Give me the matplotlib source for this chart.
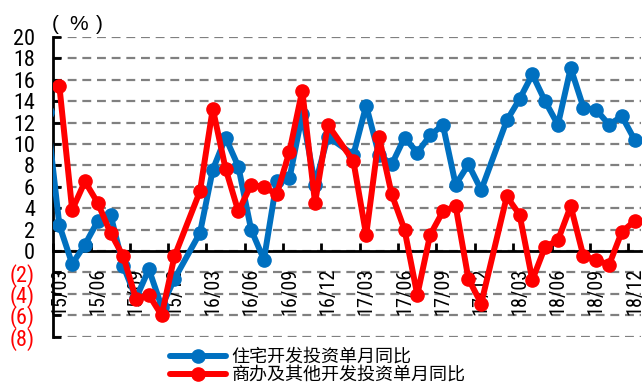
import matplotlib
matplotlib.use('Agg')
import matplotlib.pyplot as plt
from matplotlib import font_manager
from matplotlib.lines import Line2D
import numpy as np

# monthly data, 15/02 .. 18/12 (January folded into February)
months = ['15/02', '15/03', '15/04', '15/05', '15/06', '15/07', '15/08', '15/09', '15/10', '15/11', '15/12',
          '16/01', '16/02', '16/03', '16/04', '16/05', '16/06', '16/07', '16/08', '16/09', '16/10', '16/11', '16/12',
          '17/01', '17/02', '17/03', '17/04', '17/05', '17/06', '17/07', '17/08', '17/09', '17/10', '17/11', '17/12',
          '18/01', '18/02', '18/03', '18/04', '18/05', '18/06', '18/07', '18/08', '18/09', '18/10', '18/11', '18/12']

residential = [13.0, 2.4, -1.2, 0.6, 2.8, 3.4, -1.4, -4.4, -1.7, -5.2, -2.6,
               None, 1.7, 7.6, 10.6, 7.9, 2.0, -0.8, 6.5, 6.8, 12.8, 6.2, 10.7,
               None, 9.0, 13.6, 9.0, 8.1, 10.6, 9.2, 10.8, 11.8, 6.2, 8.1, 5.7,
               None, 12.2, 14.2, 16.5, 14.0, 11.8, 17.1, 13.4, 13.2, 11.8, 12.6, 10.4]

commercial = [None, 15.4, 3.85, 6.5, 4.5, 1.7, -0.5, -4.5, -4.1, -6.0, -0.5,
              None, 5.6, 13.3, 7.7, 3.7, 6.2, 6.0, 5.3, 9.3, 15.0, 4.5, 11.8,
              None, 8.4, 1.5, 10.7, 5.3, 2.0, -4.1, 1.5, 3.7, 4.2, -2.6, -4.9,
              None, 5.1, 3.4, -2.7, 0.4, 1.0, 4.2, -0.5, -0.8, -1.3, 1.8, 2.8]

series_names = ['住宅开发投资单月同比', '商办及其他开发投资单月同比']
yticks = list(range(-8, 21, 2))

BLUE = '#0070C0'
RED = '#FF0000'
CJK = ['Noto Sans CJK SC', 'DejaVu Sans']


def narrow_font():
    # prefer a condensed sans for the axis numbers, fall back to Liberation Sans
    fonts = font_manager.fontManager.ttflist
    for name in ['Liberation Sans Narrow', 'Arial Narrow', 'Roboto Condensed', 'Open Sans Condensed']:
        for f in fonts:
            if f.name == name and f.weight in (400, 'normal', 'regular') and f.style == 'normal':
                return font_manager.FontProperties(fname=f.fname), 1.0
    for f in fonts:
        if f.name == 'DejaVu Sans' and f.stretch == 'condensed' and f.style == 'normal' \
                and f.weight in (400, 'normal'):
            return font_manager.FontProperties(fname=f.fname), 0.95
    return font_manager.FontProperties(family='Liberation Sans'), 0.85


def valid_points(values):
    # skip missing months so the line joins across the gap
    xs = [i for i, v in enumerate(values) if v is not None]
    ys = [v for v in values if v is not None]
    return xs, ys


num_font, scale = narrow_font()

fig = plt.figure(figsize=(6.44, 3.9), dpi=100)
ax = fig.add_axes([53 / 644, 1 - 336.7 / 390, 588 / 644, 299.7 / 390])

for yv in yticks:
    ax.axhline(yv, color='#808080', lw=1.6, dashes=(4, 2.6), zorder=1)

for values, color in [(residential, BLUE), (commercial, RED)]:
    xs, ys = valid_points(values)
    ax.plot(xs, ys, color=color, lw=4.3, marker='o', markersize=9.5,
            solid_capstyle='round', solid_joinstyle='round', zorder=3)

ax.set_xlim(0.5, len(months) - 0.5)
ax.set_ylim(-8, 20)

for side in ['top', 'right']:
    ax.spines[side].set_visible(False)
ax.spines['left'].set_linewidth(2)
ax.spines['bottom'].set_linewidth(2)
ax.spines['bottom'].set_position(('data', 0))
ax.spines['bottom'].set_zorder(2)

ax.set_yticks(yticks)
ax.set_yticklabels([str(v) if v >= 0 else '(%d)' % -v for v in yticks])
for lab, v in zip(ax.get_yticklabels(), yticks):
    lab.set_fontproperties(num_font)
    lab.set_fontsize(16 * scale)
    lab.set_color(RED if v < 0 else 'black')
ax.tick_params(axis='y', direction='in', length=6, width=2, pad=13)

# tick marks between quarters, labels on the quarter months
ax.set_xticks(np.arange(0.5, len(months), 3))
ax.set_xticklabels([])
ax.tick_params(axis='x', which='major', direction='in', length=6, width=2)
label_pos = list(range(1, len(months), 3))
ax.set_xticks(label_pos, minor=True)
ax.set_xticklabels([months[i] for i in label_pos], minor=True, rotation=90)
for lab in ax.get_xticklabels(minor=True):
    lab.set_fontproperties(num_font)
    lab.set_fontsize(14.5 * scale)
ax.tick_params(axis='x', which='minor', length=0, pad=12)

# unit label "( % )"
for x, s in [(55, '('), (79, '%'), (99, ')')]:
    fig.text(x / 644, 1 - 24 / 390, s, fontsize=15, ha='center', va='center', family='Liberation Sans')

handles = [Line2D([], [], color=BLUE, lw=4.3, marker='o', markersize=9.5, solid_capstyle='round'),
           Line2D([], [], color=RED, lw=4.3, marker='o', markersize=9.5, solid_capstyle='round')]
fig.legend(handles, series_names, loc='upper left', bbox_to_anchor=(170 / 644, 1 - 348 / 390),
           frameon=False, borderpad=0, borderaxespad=0, handlelength=3.1, handletextpad=0.3,
           labelspacing=0.0, prop={'family': CJK, 'size': 13})

fig.savefig('out.png', dpi=100)
